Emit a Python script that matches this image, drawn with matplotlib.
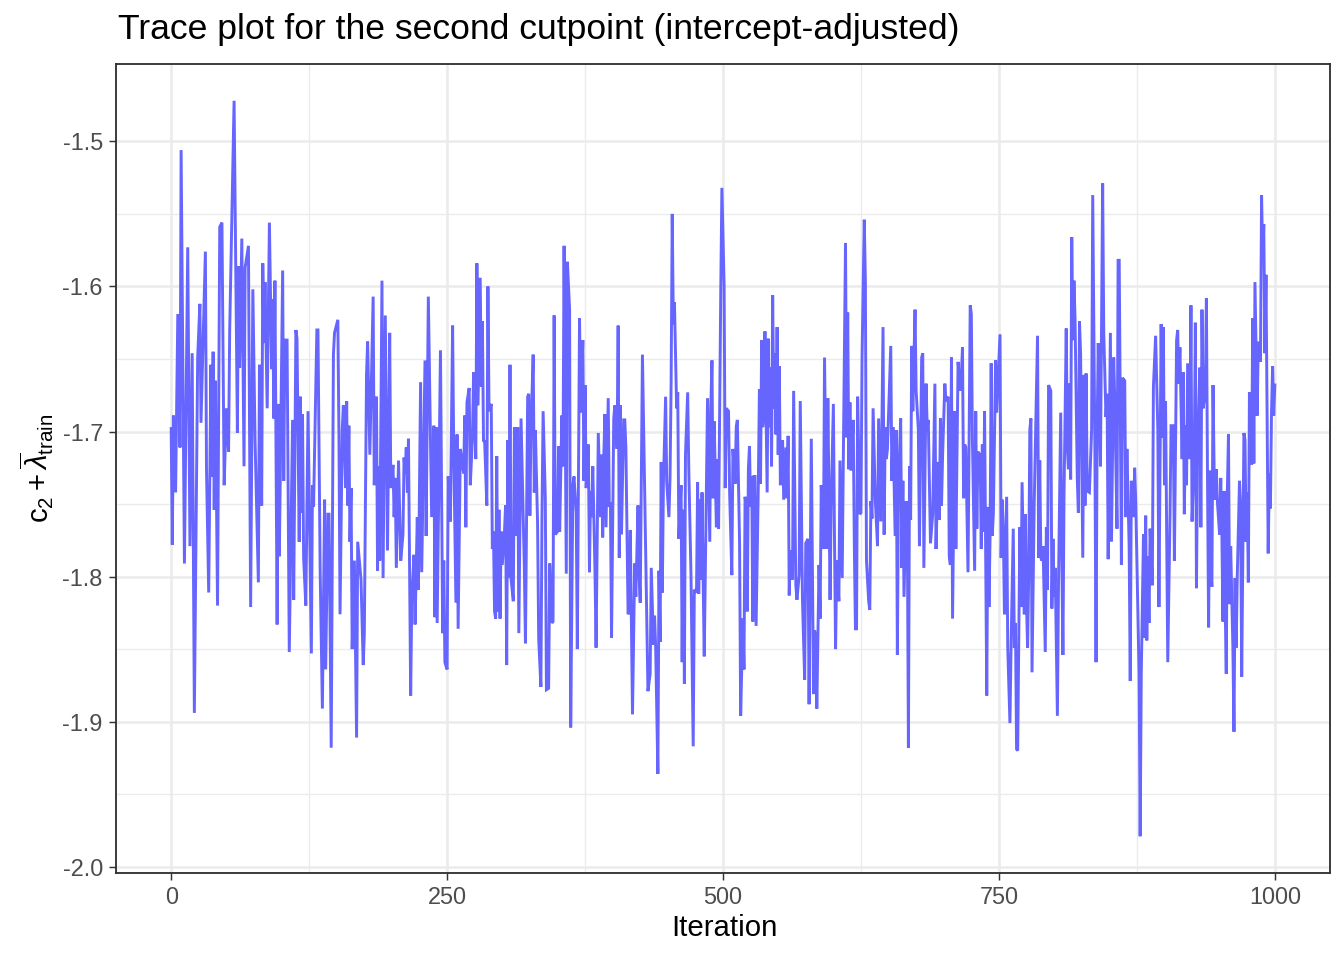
import matplotlib
matplotlib.use("Agg")
import matplotlib.pyplot as plt
import numpy as np

# ---- data (iteration, value) ----
iter_1 = [0, 1, 2, 4, 6, 8, 9, 12, 15, 17, 19, 21, 24, 26, 27, 31, 32, 34, 36, 37,
          38, 39, 40, 42, 44, 46, 48, 50, 52, 53, 57, 60, 61, 62, 64, 66, 67, 70, 72, 74,
          76, 79, 80, 82, 83, 84, 85, 87, 89]
val_1 = [-1.698, -1.778, -1.689, -1.742, -1.619, -1.711, -1.506, -1.791, -1.573, -1.779,
         -1.646, -1.894, -1.649, -1.612, -1.694, -1.576, -1.726, -1.811, -1.654, -1.731,
         -1.645, -1.754, -1.665, -1.820, -1.559, -1.556, -1.737, -1.684, -1.714, -1.631,
         -1.472, -1.701, -1.586, -1.656, -1.567, -1.724, -1.587, -1.572, -1.821, -1.602,
         -1.706, -1.804, -1.654, -1.751, -1.584, -1.639, -1.597, -1.684, -1.556]

iter_2 = [91, 92, 93, 94, 96, 97, 98, 101, 102, 103, 105, 107, 110, 111, 113,
          114, 116, 117, 118, 119, 120, 122, 124, 127, 128, 129, 132, 133, 135, 137,
          139, 140, 142, 143, 145, 147, 148, 151, 152, 153, 155, 156, 158, 159, 160,
          161, 162, 163, 164, 166, 168, 169, 172, 174, 175, 177, 178, 180, 183, 184,
          186, 187, 188, 189, 191, 192, 194, 196, 198]
val_2 = [-1.657, -1.609, -1.691, -1.596, -1.833, -1.681, -1.786, -1.589, -1.734, -1.637,
         -1.637, -1.852, -1.692, -1.816, -1.630, -1.636, -1.776, -1.676, -1.756, -1.688,
         -1.787, -1.820, -1.686, -1.853, -1.737, -1.752, -1.630, -1.630, -1.797, -1.891,
         -1.747, -1.864, -1.757, -1.757, -1.918, -1.647, -1.632, -1.623, -1.701, -1.826,
         -1.699, -1.682, -1.739, -1.679, -1.751, -1.696, -1.776, -1.739, -1.850, -1.789,
         -1.911, -1.776, -1.802, -1.861, -1.839, -1.661, -1.638, -1.716, -1.607, -1.737,
         -1.676, -1.796, -1.724, -1.789, -1.596, -1.801, -1.620, -1.782, -1.632]

iter_3 = [199, 201, 202, 203, 204, 206, 208, 210, 211, 212, 213, 214, 215, 217, 218,
          220, 221, 223, 224, 226, 227, 230, 231, 233, 235, 236, 238, 239, 240, 241,
          244, 246, 247, 248, 250, 251, 253, 255, 256, 258, 259, 260, 262, 265, 266,
          267, 268, 270, 271, 273, 274, 276, 277, 278, 280]
val_3 = [-1.739, -1.723, -1.759, -1.732, -1.794, -1.720, -1.789, -1.771, -1.718, -1.729,
         -1.711, -1.742, -1.705, -1.882, -1.816, -1.785, -1.833, -1.759, -1.809, -1.666,
         -1.797, -1.651, -1.772, -1.607, -1.711, -1.759, -1.696, -1.828, -1.697, -1.832,
         -1.644, -1.839, -1.789, -1.859, -1.864, -1.731, -1.762, -1.627, -1.712, -1.818,
         -1.702, -1.836, -1.712, -1.729, -1.689, -1.766, -1.680, -1.670, -1.737, -1.704,
         -1.659, -1.719, -1.584, -1.682, -1.594]

iter_4 = [281, 282, 283, 284, 286, 287, 288, 290, 291, 292, 293, 294, 295, 296, 297,
          298, 299, 300, 302, 303, 304, 305, 306, 307, 308, 310, 311, 313, 314, 315,
          317, 320, 321, 323, 324, 325, 326, 328, 329, 330, 332, 333, 335, 336, 337,
          339, 340, 342, 343, 345, 346, 347, 348, 350, 351, 352, 354, 355, 356, 358,
          359, 361, 362]
val_4 = [-1.669, -1.624, -1.707, -1.706, -1.751, -1.600, -1.686, -1.681, -1.781, -1.769,
         -1.824, -1.829, -1.717, -1.824, -1.754, -1.829, -1.769, -1.792, -1.769, -1.751,
         -1.861, -1.706, -1.801, -1.654, -1.802, -1.817, -1.697, -1.772, -1.697, -1.839,
         -1.691, -1.794, -1.846, -1.676, -1.674, -1.758, -1.699, -1.647, -1.742, -1.699,
         -1.764, -1.843, -1.876, -1.757, -1.686, -1.746, -1.878, -1.877, -1.791, -1.832,
         -1.831, -1.620, -1.771, -1.769, -1.710, -1.769, -1.689, -1.724, -1.572, -1.798,
         -1.583, -1.616, -1.904]

iter_5 = [364, 365, 367, 368, 370, 371, 373, 374, 375, 376, 378, 379, 380, 381, 382,
          384, 385, 387, 389, 390, 391, 392, 393, 394, 396, 397, 398, 399, 401, 402,
          404, 405, 406, 407, 408, 410, 411, 412, 414, 415, 416, 418, 420, 421, 423,
          424, 425, 427, 430, 432, 434, 435, 437, 438, 439, 441]
val_5 = [-1.737, -1.731, -1.756, -1.850, -1.622, -1.687, -1.637, -1.734, -1.668, -1.739,
         -1.709, -1.797, -1.741, -1.759, -1.724, -1.796, -1.849, -1.701, -1.759, -1.716,
         -1.773, -1.717, -1.688, -1.766, -1.677, -1.752, -1.749, -1.842, -1.691, -1.682,
         -1.712, -1.627, -1.787, -1.682, -1.771, -1.692, -1.692, -1.711, -1.826, -1.824,
         -1.768, -1.895, -1.791, -1.814, -1.751, -1.799, -1.818, -1.647, -1.786, -1.879,
         -1.867, -1.794, -1.847, -1.827, -1.849, -1.936]

iter_6 = [442, 443, 444, 445, 446, 448, 449, 451, 452, 453, 454, 455, 456, 458, 459,
          460, 462, 463, 464, 465, 466, 468, 469, 471, 473, 474, 476, 477, 478, 479,
          480, 481, 482, 483, 485, 486, 488, 489, 490, 491, 492, 494, 495, 496, 498,
          499, 501, 502, 503, 505, 506, 508, 509, 511, 512, 513, 515, 516, 518, 519,
          520, 521, 522, 523, 524, 525]
val_6 = [-1.796, -1.845, -1.721, -1.811, -1.736, -1.676, -1.735, -1.759, -1.732, -1.666,
         -1.550, -1.626, -1.611, -1.684, -1.673, -1.774, -1.737, -1.859, -1.754, -1.874,
         -1.716, -1.673, -1.726, -1.799, -1.917, -1.809, -1.811, -1.735, -1.812, -1.747,
         -1.802, -1.742, -1.802, -1.855, -1.738, -1.677, -1.776, -1.682, -1.651, -1.746,
         -1.693, -1.766, -1.719, -1.767, -1.601, -1.532, -1.599, -1.739, -1.684, -1.686,
         -1.742, -1.799, -1.712, -1.736, -1.697, -1.692, -1.776, -1.896, -1.829, -1.864,
         -1.745, -1.752, -1.824, -1.726, -1.710, -1.752]

iter_7 = [526, 527, 528, 529, 530, 532, 533, 534, 535, 536, 537, 538, 540, 541, 542,
          543, 544, 545, 546, 547, 548, 549, 550, 551, 552, 553, 554, 555, 557, 558,
          559, 560, 561, 563, 564, 566, 567, 569, 570, 572, 574, 575, 577, 578, 580,
          582, 583, 584, 585, 587, 588, 589, 591, 592, 594, 595, 596, 597, 598, 600,
          601, 602, 603, 605, 606]
val_7 = [-1.731, -1.831, -1.731, -1.731, -1.834, -1.737, -1.671, -1.736, -1.637, -1.697,
         -1.687, -1.631, -1.742, -1.636, -1.697, -1.656, -1.724, -1.606, -1.684, -1.646,
         -1.702, -1.628, -1.716, -1.655, -1.737, -1.711, -1.706, -1.747, -1.711, -1.746,
         -1.703, -1.813, -1.782, -1.802, -1.672, -1.806, -1.816, -1.799, -1.679, -1.816,
         -1.871, -1.777, -1.774, -1.888, -1.705, -1.881, -1.837, -1.842, -1.891, -1.792,
         -1.829, -1.737, -1.781, -1.649, -1.781, -1.677, -1.742, -1.816, -1.752, -1.681,
         -1.772, -1.850, -1.789, -1.817, -1.720]

iter_8 = [608, 609, 611, 612, 613, 614, 615, 616, 618, 619, 620, 621, 622, 624, 625,
          626, 628, 629, 630, 632, 633, 634, 635, 636, 638, 640, 641, 643, 645, 646,
          647, 648, 649, 652, 653, 654, 656, 657, 658, 659, 661, 662, 663, 664, 666,
          667, 668, 669, 670, 671, 672, 674, 675, 677, 678, 680, 681, 682, 684, 685,
          686, 688]
val_8 = [-1.801, -1.721, -1.570, -1.704, -1.618, -1.726, -1.680, -1.727, -1.692, -1.779,
         -1.836, -1.836, -1.676, -1.757, -1.756, -1.649, -1.554, -1.596, -1.789, -1.817,
         -1.823, -1.748, -1.760, -1.684, -1.747, -1.779, -1.691, -1.762, -1.628, -1.771,
         -1.697, -1.719, -1.712, -1.641, -1.734, -1.697, -1.772, -1.699, -1.854, -1.736,
         -1.691, -1.794, -1.734, -1.814, -1.748, -1.761, -1.918, -1.724, -1.761, -1.641,
         -1.686, -1.616, -1.672, -1.699, -1.779, -1.649, -1.646, -1.794, -1.667, -1.697,
         -1.692, -1.777]

iter_9 = [690, 692, 693, 695, 696, 697, 698, 699, 701, 702, 704, 705, 706, 707, 708,
          710, 711, 713, 715, 716, 717, 718, 719, 720, 722, 724, 725, 726, 728, 729,
          730, 731, 733, 734, 735, 736, 737, 739, 740, 741, 742, 743, 744, 745, 747,
          748, 751, 752, 753, 754, 755, 757, 758, 760, 761, 763, 764, 765, 766, 767,
          768, 769, 770]
val_9 = [-1.757, -1.667, -1.781, -1.721, -1.761, -1.691, -1.751, -1.716, -1.667, -1.679,
         -1.676, -1.786, -1.792, -1.649, -1.829, -1.686, -1.781, -1.652, -1.672, -1.661,
         -1.642, -1.746, -1.709, -1.711, -1.797, -1.613, -1.619, -1.706, -1.796, -1.686,
         -1.767, -1.714, -1.716, -1.781, -1.709, -1.769, -1.686, -1.882, -1.752, -1.821,
         -1.772, -1.653, -1.772, -1.756, -1.651, -1.687, -1.633, -1.787, -1.747, -1.769,
         -1.826, -1.745, -1.849, -1.901, -1.849, -1.767, -1.849, -1.832, -1.919, -1.920,
         -1.846, -1.766, -1.821]

iter_10 = [771, 773, 774, 775, 776, 777, 778, 779, 780, 782, 785, 786, 787, 788, 789,
           790, 792, 793, 794, 795, 797, 798, 799, 800, 801, 803, 804, 806, 807, 808,
           809, 811, 812, 813, 814, 815, 816, 817, 818, 819, 821, 822, 823, 824, 826,
           827, 828, 829, 830, 832, 834, 835, 837, 838, 839, 840, 841, 842, 844, 845,
           847, 848, 849, 851, 852]
val_10 = [-1.735, -1.826, -1.757, -1.819, -1.849, -1.799, -1.699, -1.691, -1.866, -1.749,
          -1.634, -1.787, -1.720, -1.787, -1.789, -1.779, -1.852, -1.766, -1.809, -1.668,
          -1.672, -1.822, -1.774, -1.814, -1.794, -1.896, -1.804, -1.687, -1.787, -1.854,
          -1.744, -1.629, -1.711, -1.726, -1.667, -1.733, -1.566, -1.637, -1.596, -1.623,
          -1.732, -1.756, -1.624, -1.646, -1.787, -1.661, -1.751, -1.660, -1.741, -1.742,
          -1.699, -1.537, -1.716, -1.859, -1.699, -1.639, -1.686, -1.724, -1.529, -1.632,
          -1.690, -1.674, -1.788, -1.632, -1.776]

iter_11 = [854, 855, 857, 858, 859, 861, 862, 864, 865, 866, 868, 869, 870, 872, 873,
           874, 876, 877, 878, 879, 881, 882, 883, 884, 885, 886, 887, 889, 890, 892,
           894, 895, 897, 898, 899, 900, 901, 903, 905, 906, 908, 909, 911, 912, 913,
           914, 916, 917, 918, 919, 920, 921, 923, 924, 925, 927, 928, 929, 930, 932,
           933]
val_11 = [-1.649, -1.679, -1.767, -1.582, -1.582, -1.792, -1.663, -1.665, -1.759, -1.712,
          -1.779, -1.872, -1.734, -1.759, -1.725, -1.749, -1.829, -1.867, -1.979, -1.866,
          -1.771, -1.842, -1.758, -1.844, -1.786, -1.832, -1.767, -1.806, -1.669, -1.634,
          -1.699, -1.821, -1.626, -1.704, -1.628, -1.737, -1.679, -1.859, -1.759, -1.696,
          -1.696, -1.789, -1.637, -1.630, -1.667, -1.642, -1.719, -1.659, -1.757, -1.696,
          -1.737, -1.653, -1.719, -1.613, -1.762, -1.719, -1.625, -1.808, -1.716, -1.656,
          -1.766]

iter_12 = [934, 935, 937, 938, 939, 940, 941, 942, 943, 944, 945, 946, 947, 948, 950,
           951, 952, 953, 954, 955, 956, 957, 958, 959, 960, 962, 963, 964, 965, 966,
           968, 969, 970, 972, 973, 974, 975, 976, 977, 978, 979, 980, 981, 982, 984,
           985, 986, 987, 988, 989, 990, 991, 992, 994, 995, 996, 997, 998, 999, 1000]
val_12 = [-1.616, -1.684, -1.674, -1.608, -1.732, -1.835, -1.727, -1.797, -1.807, -1.668,
          -1.726, -1.747, -1.726, -1.749, -1.771, -1.732, -1.769, -1.831, -1.741, -1.819,
          -1.867, -1.741, -1.702, -1.819, -1.779, -1.849, -1.907, -1.801, -1.849, -1.799,
          -1.734, -1.752, -1.869, -1.701, -1.706, -1.776, -1.742, -1.804, -1.673, -1.722,
          -1.722, -1.622, -1.722, -1.597, -1.689, -1.639, -1.639, -1.652, -1.537, -1.581,
          -1.557, -1.646, -1.592, -1.784, -1.729, -1.753, -1.687, -1.655, -1.689, -1.668]

x_ticks = [0, 250, 500, 750, 1000]
x_tick_labels = ["0", "250", "500", "750", "1000"]
y_ticks = [-2.0, -1.9, -1.8, -1.7, -1.6, -1.5]
y_tick_labels = ["-2.0", "-1.9", "-1.8", "-1.7", "-1.6", "-1.5"]

title_text = "Trace plot for the second cutpoint (intercept-adjusted)"
x_label = "Iteration"
y_label = r"$\mathrm{c}_2 + \overline{\lambda}_{\mathrm{train}}$"

iters_parts = [iter_1, iter_2, iter_3, iter_4, iter_5, iter_6, iter_7, iter_8,
               iter_9, iter_10, iter_11, iter_12]
vals_parts = [val_1, val_2, val_3, val_4, val_5, val_6, val_7, val_8,
              val_9, val_10, val_11, val_12]
iterations = []
values = []
for a, b in zip(iters_parts, vals_parts):
    n = min(len(a), len(b))
    iterations.extend(a[:n])
    values.extend(b[:n])
iterations = np.array(iterations)
values = np.array(values)

# ---- style ----
plt.rcParams['font.family'] = ['Liberation Sans', 'DejaVu Sans']
plt.rcParams['mathtext.fontset'] = 'custom'
plt.rcParams['mathtext.rm'] = 'Liberation Sans'
plt.rcParams['mathtext.it'] = 'Liberation Sans:italic'
plt.rcParams['mathtext.sf'] = 'Liberation Sans'
plt.rcParams['axes.unicode_minus'] = False

W, H = 1344, 960
fig = plt.figure(figsize=(7, 5), dpi=192)
left, right, top, bottom = 116, 1330, 64, 873
ax = fig.add_axes([left / W, 1 - bottom / H, (right - left) / W, (bottom - top) / H])
ax.set_facecolor('white')

ax.plot(iterations, values, color='#6666FF', lw=1.1, solid_joinstyle='miter', zorder=3)

xmin, xmax = 0, 1000
xr = xmax - xmin
ax.set_xlim(xmin - 0.05 * xr, xmax + 0.05 * xr)
ymin, ymax = values.min(), values.max()
yr = ymax - ymin
ax.set_ylim(ymin - 0.05 * yr, ymax + 0.05 * yr)

ax.set_xticks(x_ticks)
ax.set_xticklabels(x_tick_labels)
ax.set_yticks(y_ticks)
ax.set_yticklabels(y_tick_labels)
ax.set_xticks([125, 375, 625, 875], minor=True)
ax.set_yticks([-1.95, -1.85, -1.75, -1.65, -1.55], minor=True)

ax.grid(True, which='major', color='#EBEBEB', lw=0.95, zorder=0)
ax.grid(True, which='minor', color='#EBEBEB', lw=0.5, zorder=0)
ax.set_axisbelow(True)

ax.tick_params(axis='both', which='major', length=2.75, width=0.55, color='#333333',
               labelsize=8.8, labelcolor='#4D4D4D', pad=2.2)
ax.tick_params(axis='both', which='minor', length=0)
for s in ax.spines.values():
    s.set_color('#333333')
    s.set_linewidth(0.7)
    s.set_zorder(4)

fig.text(118 / W, 1 - 30 / H, title_text, fontsize=13.3, ha='left', va='center',
         color='black')
fig.text((118 + right) / 2 / W, 1 - 928 / H, x_label, fontsize=11, ha='center',
         va='center', color='black')
fig.text(37 / W, 1 - (top + bottom) / 2 / H, y_label, fontsize=11, ha='center',
         va='center', rotation=90, color='black')

fig.savefig('out.png', dpi=192, facecolor='white')
